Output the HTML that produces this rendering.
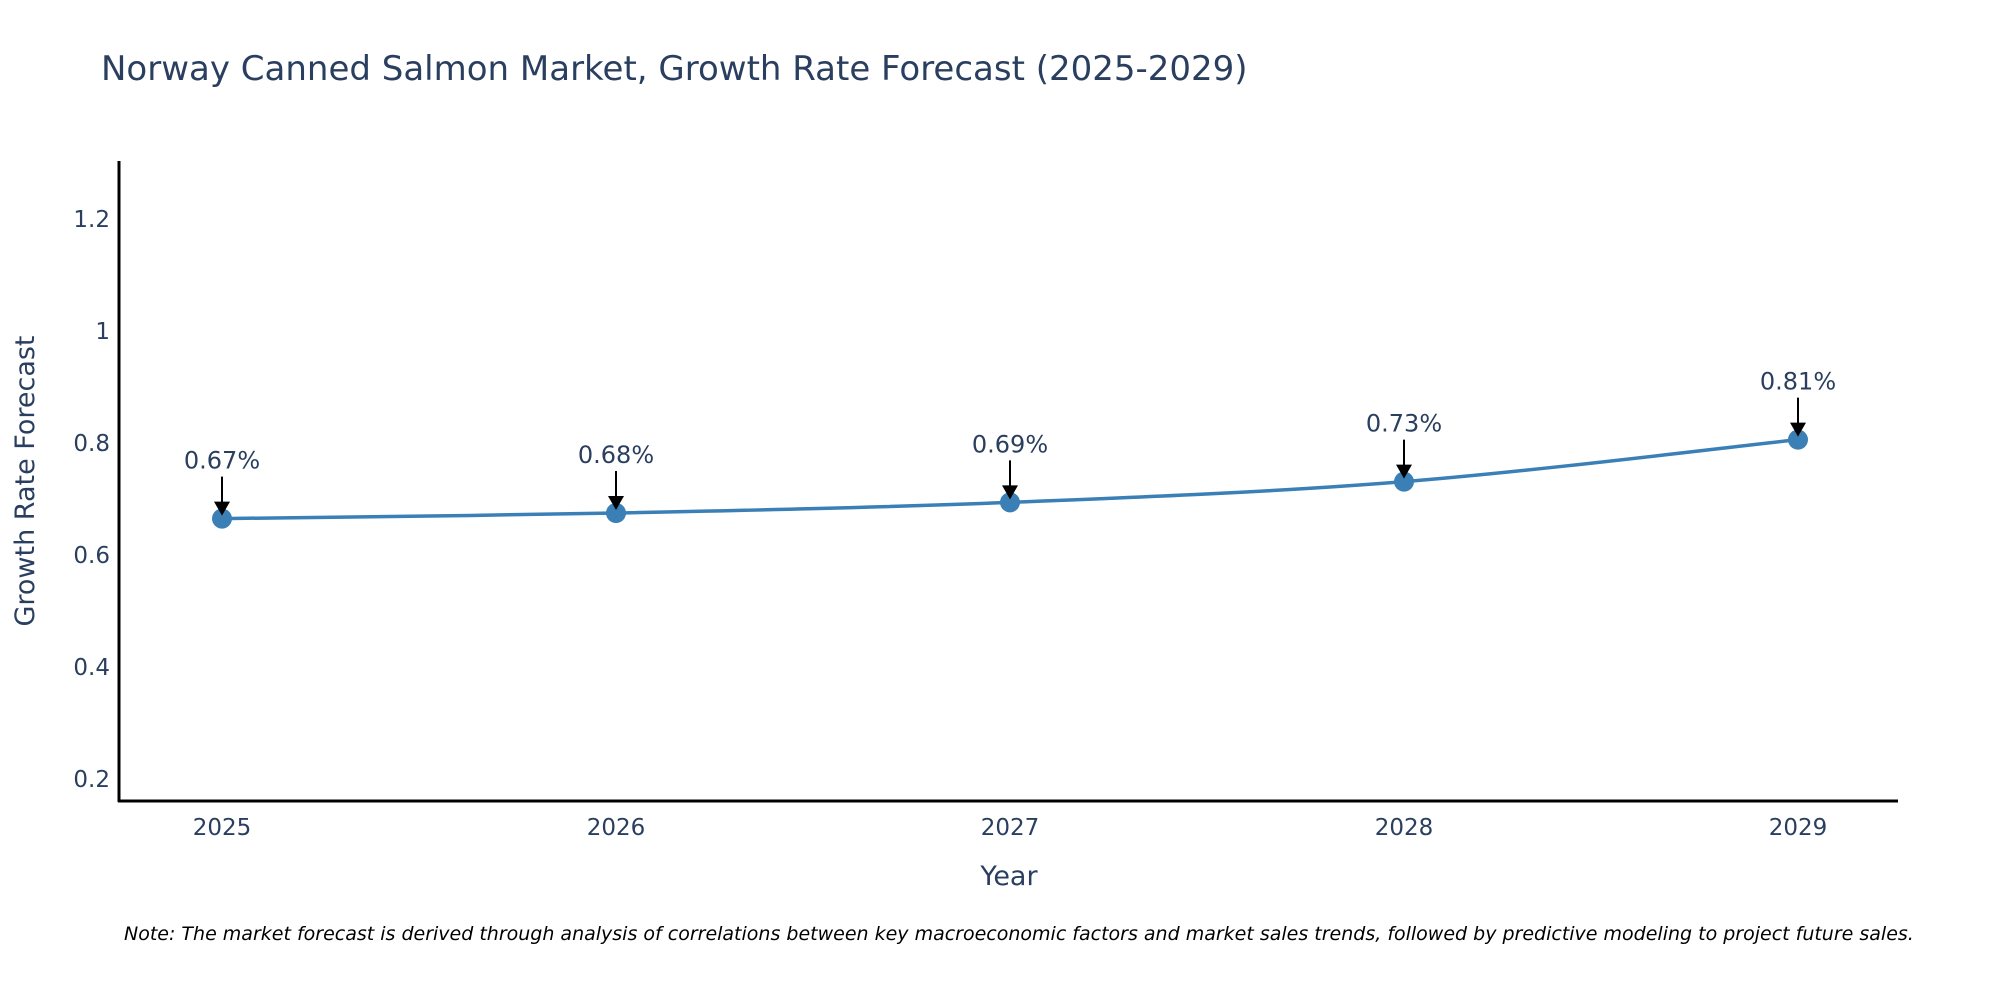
<!DOCTYPE html>
<html><head><meta charset="utf-8"><style>
body{margin:0;background:#fff;}
svg{display:block;font-family:"DejaVu Sans","Liberation Sans",sans-serif;}
</style></head><body>
<svg id="chart" width="2000" height="1000">
<text x="101" y="80" font-size="34" fill="#2a3f5f">Norway Canned Salmon Market, Growth Rate Forecast (2025-2029)</text>
<g id="yticks"></g><g id="xticks"></g>
<line x1="119" y1="161" x2="119" y2="802" stroke="#000" stroke-width="3"/>
<line x1="118" y1="801" x2="1898" y2="801" stroke="#000" stroke-width="3"/>
<text transform="translate(34,481) rotate(-90)" text-anchor="middle" font-size="27" fill="#2a3f5f">Growth Rate Forecast</text>
<text x="1009" y="885" text-anchor="middle" font-size="27" fill="#2a3f5f">Year</text>
<g id="series"></g>
<text x="124" y="940" font-size="19" font-style="italic" fill="#000">Note: The market forecast is derived through analysis of correlations between key macroeconomic factors and market sales trends, followed by predictive modeling to project future sales.</text>
</svg>
<script>
const years = ["2025","2026","2027","2028","2029"];
const growth = [0.665, 0.675, 0.694, 0.731, 0.806];
const labels = ["0.67%","0.68%","0.69%","0.73%","0.81%"];
const yTicks = [0.2, 0.4, 0.6, 0.8, 1, 1.2];
const yTickLabels = ["0.2","0.4","0.6","0.8","1","1.2"];
const NS="http://www.w3.org/2000/svg";
const x = i => 222 + i*394;
const y = v => 779 - (v-0.2)*560;
function mk(tag, attrs, parent){const e=document.createElementNS(NS,tag);for(const k in attrs)e.setAttribute(k,attrs[k]);parent.appendChild(e);return e;}
const yt=document.getElementById('yticks');
yTicks.forEach((v,i)=>{const t=mk('text',{x:110,y:y(v)+8,'text-anchor':'end','font-size':23,fill:'#2a3f5f'},yt);


t.textContent=yTickLabels[i];});
const xt=document.getElementById('xticks');
years.forEach((yr,i)=>{const t=mk('text',{x:x(i),y:835,'text-anchor':'middle','font-size':23,fill:'#2a3f5f'},xt);


t.textContent=yr;});
const s=document.getElementById('series');
const pts=growth.map((v,i)=>[x(i),y(v)]);
let d=`M${pts[0][0]},${pts[0][1]}`;
for(let i=0;i<pts.length-1;i++){const p0=pts[Math.max(0,i-1)],p1=pts[i],p2=pts[i+1],p3=pts[Math.min(pts.length-1,i+2)];const k=6;
d+=` C${p1[0]+(p2[0]-p0[0])/k},${p1[1]+(p2[1]-p0[1])/k} ${p2[0]-(p3[0]-p1[0])/k},${p2[1]-(p3[1]-p1[1])/k} ${p2[0]},${p2[1]}`;}
const line=mk('path',{d:d,fill:'none',stroke:'#3a7fb5','stroke-width':3.5},s);


pts.forEach((p,i)=>{
const c=mk('circle',{cx:p[0],cy:p[1],r:10,fill:'#3a7fb5'},s);


const a=mk('line',{x1:p[0],y1:p[1]-42,x2:p[0],y2:p[1]-14,stroke:'#000','stroke-width':2},s);


const h=mk('polygon',{points:`${p[0]-8},${p[1]-17} ${p[0]+8},${p[1]-17} ${p[0]},${p[1]-3}`,fill:'#000'},s);


const t=mk('text',{x:p[0],y:p[1]-50,'text-anchor':'middle','font-size':24,fill:'#2a3f5f'},s);


t.textContent=labels[i];
});
</script>
</body></html>
